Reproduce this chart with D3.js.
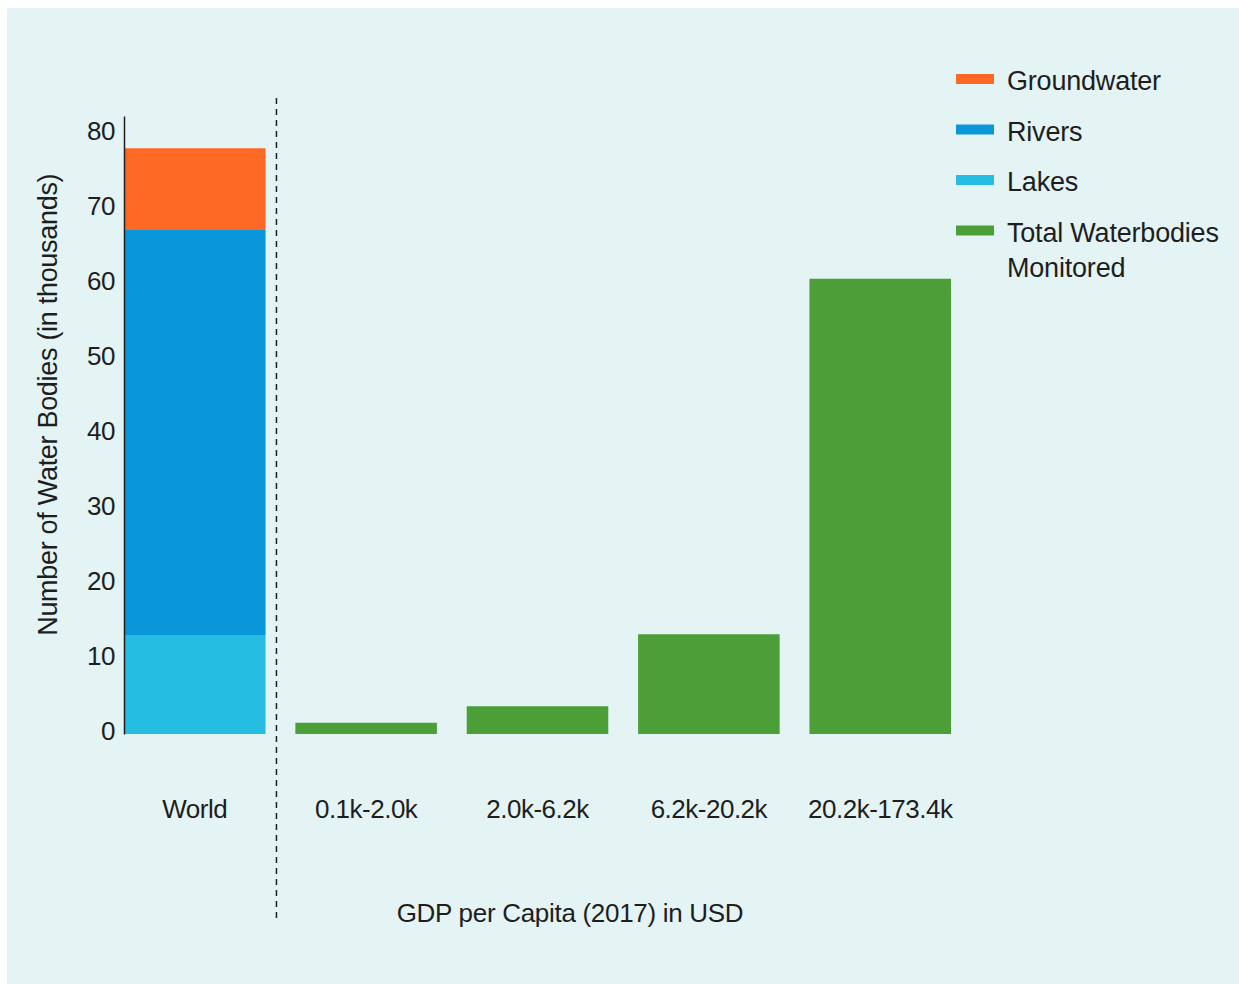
<!DOCTYPE html>
<html>
<head>
<meta charset="utf-8">
<script src="https://cdn.jsdelivr.net/npm/d3@7"></script>
<style>
  body { margin: 0; background: #fff; }
  svg text { font-family: "Liberation Sans", Arial, sans-serif; fill: #1e1e1e; letter-spacing: -0.5px; }
</style>
</head>
<body>
<svg id="chart" width="1239" height="984"></svg>
<script>
// values, in thousands
const categories = ['World', '0.1k-2.0k', '2.0k-6.2k', '6.2k-20.2k', '20.2k-173.4k'];
const worldKeys = ['Lakes', 'Rivers', 'Groundwater'];
const worldValues = [13.2, 54.0, 10.9];
const incomeValues = [1.5, 3.7, 13.3, 60.7];
const yTicks = [0, 10, 20, 30, 40, 50, 60, 70, 80];
const legendLabels = ['Groundwater', 'Rivers', 'Lakes', ['Total Waterbodies', 'Monitored']];

const colors = {
  Groundwater: '#fd6925',
  Rivers: '#0a97d9',
  Lakes: '#26bde2',
  Total: '#4c9f38',
};

const svg = d3.select('#chart');

svg.append('rect')
  .attr('x', 7).attr('y', 8)
  .attr('width', 1232).attr('height', 976)
  .attr('fill', '#e4f4f4');

const y = d3.scaleLinear()
  .domain([0, 82.4])
  .range([734, 116]);

const x = d3.scaleBand()
  .domain(categories)
  .range([124, 951])
  .paddingInner(0.174)
  .paddingOuter(0);

// stacked world bar
const stackRow = {};
worldKeys.forEach((k, i) => { stackRow[k] = worldValues[i]; });
const stacked = d3.stack().keys(worldKeys)([stackRow]);

svg.append('g').selectAll('rect')
  .data(stacked)
  .enter().append('rect')
  .attr('x', x('World'))
  .attr('width', x.bandwidth())
  .attr('y', d => y(d[0][1]))
  .attr('height', d => y(d[0][0]) - y(d[0][1]))
  .attr('fill', d => colors[d.key]);

// income groups
svg.append('g').selectAll('rect')
  .data(incomeValues)
  .enter().append('rect')
  .attr('x', (d, i) => x(categories[i + 1]))
  .attr('width', x.bandwidth())
  .attr('y', d => y(d))
  .attr('height', d => y(0) - y(d))
  .attr('fill', colors.Total);

// y axis
const yAxis = svg.append('g')
  .attr('transform', `translate(${x.range()[0]},0)`)
  .call(d3.axisLeft(y).tickValues(yTicks).tickSize(0).tickSizeOuter(0).tickPadding(9));
yAxis.select('.domain').attr('stroke', '#1e1e1e').attr('stroke-width', 1.5);
yAxis.selectAll('text')
  .attr('font-size', 26)
  .attr('dy', 0)
  .attr('transform', 'translate(0,5)');

svg.append('text')
  .attr('transform', `translate(57,${y(43.9)}) rotate(-90)`)
  .attr('text-anchor', 'middle')
  .attr('font-size', 27)
  .style('letter-spacing', '-0.3px')
  .text('Number of Water Bodies (in thousands)');

// x labels
const xAxis = svg.append('g')
  .attr('transform', 'translate(0,818)')
  .call(d3.axisBottom(x).tickSize(0).tickPadding(0));
xAxis.select('.domain').remove();
xAxis.selectAll('text')
  .attr('font-size', 26)
  .attr('dy', 0);

svg.append('text')
  .attr('x', 570)
  .attr('y', 922)
  .attr('text-anchor', 'middle')
  .attr('font-size', 26)
  .style('letter-spacing', '-0.3px')
  .text('GDP per Capita (2017) in USD');

// dashed separator
const sepX = x('World') + x.bandwidth() + (x.step() - x.bandwidth()) / 2 - 4;
svg.append('line')
  .attr('x1', sepX).attr('x2', sepX)
  .attr('y1', 98).attr('y2', 918)
  .attr('stroke', '#1e1e1e')
  .attr('stroke-width', 1.5)
  .attr('stroke-dasharray', '6,5');

// legend
const legendKeys = ['Groundwater', 'Rivers', 'Lakes', 'Total'];
const legend = svg.append('g').attr('transform', 'translate(956,79)');
const items = legend.selectAll('g')
  .data(legendKeys)
  .enter().append('g')
  .attr('transform', (d, i) => `translate(0,${i * 50.5})`);

items.append('rect')
  .attr('x', 0).attr('y', -5)
  .attr('width', 38).attr('height', 10)
  .attr('fill', d => colors[d]);

items.append('text')
  .attr('x', 51)
  .attr('y', 11)
  .attr('font-size', 27)
  .style('letter-spacing', '-0.2px')
  .each(function(d, i) {
    const lines = [].concat(legendLabels[i]);
    d3.select(this).selectAll('tspan')
      .data(lines)
      .enter().append('tspan')
      .attr('x', 51)
      .attr('dy', (l, j) => j === 0 ? 0 : 35)
      .text(l => l);
  });
</script>
</body>
</html>
